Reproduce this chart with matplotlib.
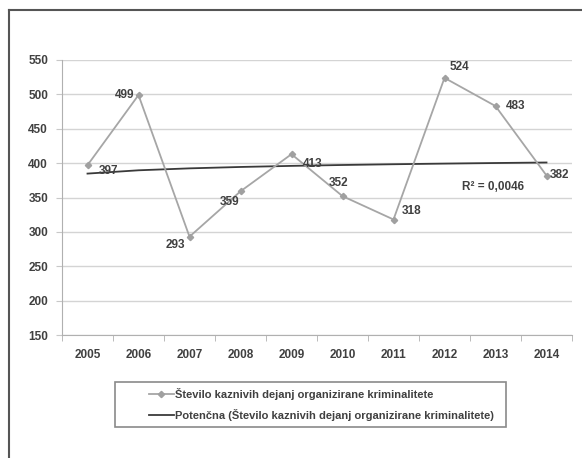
import numpy as np
import matplotlib.pyplot as plt
from matplotlib.lines import Line2D
from matplotlib.patches import Rectangle

years = ["2005", "2006", "2007", "2008", "2009", "2010", "2011", "2012", "2013", "2014"]
cases = [397, 499, 293, 359, 413, 352, 318, 524, 483, 382]
# pixel offsets of the value labels (dx, dy, ha)
label_offsets = [(21, -6, "center"), (-4, 0, "right"), (-14, -8, "center"),
                 (-11, -11, "center"), (21, -10, "center"), (-4, 13, "center"),
                 (18, 9, "center"), (15, 11, "center"), (20, 0, "center"),
                 (3, 0, "left")]
series_name = "Število kaznivih dejanj organizirane kriminalitete"
trend_name = "Potenčna (Število kaznivih dejanj organizirane kriminalitete)"
r2_label = "R² = 0,0046"

plt.rcParams['font.family'] = ['Liberation Sans Narrow', 'Liberation Sans', 'DejaVu Sans']
plt.rcParams['font.weight'] = 'bold'
txt = "#404040"

fig = plt.figure(figsize=(5.82, 4.58), dpi=100)
ax = fig.add_axes([62 / 582, 1 - 335 / 458, 510 / 582, 275 / 458])

x = np.arange(len(years))
# power trend y = a * n^b, n = 1..10
n = x + 1
b, loga = np.polyfit(np.log(n), np.log(cases), 1)
trend = np.exp(loga) * n ** b

ax.plot(x, cases, color="#a6a6a6", lw=1.3, marker="D", ms=3.2,
        mfc="#a0a0a0", mec="#a0a0a0", label=series_name, zorder=3)
ax.plot(x, trend, color="#3a3a3a", lw=1.3, label=trend_name, zorder=2)

for xi, v, (dx, dy, ha) in zip(x, cases, label_offsets):
    ax.annotate(str(v), (xi, v), xytext=(dx, dy), textcoords="offset pixels",
                ha=ha, va="center", fontsize=8.5, color=txt, fontweight="bold")

ax.text(7.95, 366, r2_label, ha="center", va="center", fontsize=8.5,
        color=txt, fontweight="bold")

ax.set_xlim(-0.5, 9.5)
ax.set_ylim(150, 550)
ax.set_yticks(range(150, 551, 50))
ax.set_xticks(x)
ax.set_xticklabels(years)
ax.set_xticks(np.arange(-0.5, 10, 1), minor=True)
ax.tick_params(axis="x", which="major", length=0, pad=10, labelsize=8.5, labelcolor=txt)
ax.tick_params(axis="x", which="minor", length=4, color="#b0b0b0", direction="out")
ax.tick_params(axis="y", length=4, color="#c8c8c8", labelsize=8.5, labelcolor=txt, pad=6)
ax.grid(axis="y", color="#d4d4d4", lw=1)
ax.set_axisbelow(True)
for s in ["top", "right"]:
    ax.spines[s].set_visible(False)
for s in ["left", "bottom"]:
    ax.spines[s].set_color("#b0b0b0")

# legend with separate frame
fig.patches.append(Rectangle((115 / 582, 1 - 427 / 458), 391 / 582, 45 / 458,
                             transform=fig.transFigure, fill=False,
                             ec="#8a8a8a", lw=1.2))
h, l = ax.get_legend_handles_labels()
leg = fig.legend(h, l, loc="center left", bbox_to_anchor=(143 / 582, 1 - 404.5 / 458),
                 frameon=False, handlelength=2.3, handletextpad=0.1,
                 labelspacing=0.75, borderpad=0, labelcolor=txt,
                 prop={"size": 8, "weight": "bold"})

# outer border (top and left visible)
fig.add_artist(Line2D([9 / 582, 1], [1 - 10 / 458, 1 - 10 / 458],
                      transform=fig.transFigure, color="#555555", lw=1.5))
fig.add_artist(Line2D([9 / 582, 9 / 582], [0, 1 - 10 / 458],
                      transform=fig.transFigure, color="#555555", lw=1.5))

fig.savefig("out.png", dpi=100)
